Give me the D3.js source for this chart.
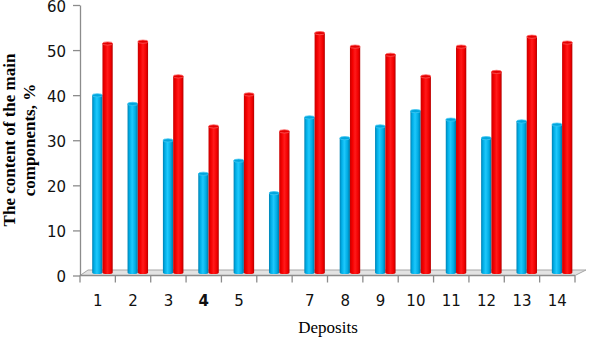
<!DOCTYPE html>
<html><head><meta charset="utf-8">
<script src="https://cdn.jsdelivr.net/npm/d3@7"></script>
<style>body{margin:0;background:#fff}svg{display:block}</style>
</head><body>
<svg id="c" width="589" height="337"></svg>
<script>
const categories = ["1","2","3","4","5","","7","8","9","10","11","12","13","14"];
const seriesNames = ["blue","red"];
const blueValues = [39.3,37.4,29.3,21.9,24.8,17.6,34.4,29.8,32.4,35.8,33.9,29.8,33.5,32.8];
const redValues  = [50.8,51.2,43.5,32.4,39.5,31.3,53.1,50.1,48.3,43.5,50.1,44.5,52.3,51.0];
const yTicks = [0,10,20,30,40,50,60];
const yTitle = ["The content of the main","components, %"];
const xTitle = "Deposits";

(function () {
const svg = d3.select("#c");
const mLeft = 80, mRight = 575, mTop = 5, mBottom = 275.5;
const depthX = 4, depthY = 3;

const x = d3.scaleBand().domain(d3.range(categories.length)).range([mLeft, mRight]).padding(0);
const y = d3.scaleLinear().domain([0, 60]).range([mBottom, mTop]);
const barW = x.bandwidth() * 0.29;
const x1 = d3.scaleBand().domain(seriesNames).range([0, 2 * barW]);

const defs = svg.append("defs");
function grad(id, stops) {
  const g = defs.append("linearGradient").attr("id", id).attr("x1", "0%").attr("x2", "100%").attr("y1", "0%").attr("y2", "0%");
  stops.forEach(s => g.append("stop").attr("offset", s[0]).attr("stop-color", s[1]));
}
grad("gBlue", [["0%","#0082b4"],["20%","#00aee6"],["45%","#1ec8fc"],["75%","#00ace4"],["100%","#0077a6"]]);
grad("gRed", [["0%","#c80000"],["25%","#f40000"],["50%","#ff1a1a"],["80%","#f20000"],["100%","#b40000"]]);
const style = {
  blue: {fill: "url(#gBlue)", top: "#00a6de", rim: "#3fc6f2"},
  red: {fill: "url(#gRed)", top: "#e40000", rim: "#ff5a5a"}
};

// floor
const floorPts = [[mLeft, mBottom], [mRight, mBottom], [mRight + 11, mBottom - 5.5], [mLeft + 8, mBottom - 5.5]];
svg.append("polygon").attr("points", floorPts.map(p => p.join(",")).join(" "))
  .attr("fill", "#e3e3e3").attr("stroke", "#a6a6a6").attr("stroke-width", 1);

// y axis
const yAxis = svg.append("g").attr("transform", `translate(${mLeft},0)`)
  .call(d3.axisLeft(y).tickValues(yTicks).tickSize(7).tickPadding(7).tickSizeOuter(0));
yAxis.select(".domain").attr("stroke", "#8c8c8c").attr("stroke-width", 1.3);
yAxis.selectAll(".tick line").attr("stroke", "#8c8c8c").attr("stroke-width", 1.3);
yAxis.selectAll("text").attr("font-family", "DejaVu Sans").attr("font-size", 15).attr("fill", "#111")
  .attr("dy", "0.43em");

// x axis
const xAxis = svg.append("g").attr("transform", `translate(0,${mBottom})`)
  .call(d3.axisBottom(x).tickFormat(i => categories[i]).tickSize(0).tickPadding(19.5));
xAxis.select(".domain").remove();
xAxis.selectAll("text").attr("font-family", "DejaVu Sans").attr("font-size", 15).attr("fill", "#111")
  .attr("font-weight", (d) => categories[d] === "4" ? "bold" : "normal");
svg.append("line").attr("x1", mLeft).attr("x2", mRight).attr("y1", mBottom).attr("y2", mBottom)
  .attr("stroke", "#8c8c8c").attr("stroke-width", 1.3);
const bounds = d3.range(categories.length).map(i => x(i)).concat([mRight]);
svg.append("g").selectAll("line").data(bounds).join("line")
  .attr("x1", d => d).attr("x2", d => d).attr("y1", mBottom).attr("y2", mBottom + 7)
  .attr("stroke", "#8c8c8c").attr("stroke-width", 1.3);

// bars (cylinders)
const rows = categories.map((c, i) => ({i, blue: blueValues[i], red: redValues[i]}));
const ry = 1.6;
const bars = svg.append("g");
rows.forEach(r => {
  seriesNames.forEach(s => {
    const x0 = x(r.i) + 8.2 + depthX + x1(s);
    const w = x1.bandwidth();
    const yt = y(r[s]) - depthY;
    const yb = y(0) - depthY;
    const rx = w / 2;
    const p = `M${x0},${yt} L${x0},${yb} A${rx},${ry} 0 0 0 ${x0 + w},${yb} L${x0 + w},${yt} Z`;
    bars.append("path").attr("d", p).attr("fill", style[s].fill);
    bars.append("ellipse").attr("cx", x0 + rx).attr("cy", yt).attr("rx", rx).attr("ry", ry)
      .attr("fill", style[s].top).attr("stroke", style[s].rim).attr("stroke-width", 0.8);
  });
});

// titles
const tt = svg.append("text").attr("transform", "translate(15,140) rotate(-90)")
  .attr("text-anchor", "middle").attr("font-family", "Liberation Serif").attr("font-weight", "bold")
  .attr("font-size", 17).attr("fill", "#000");
tt.append("tspan").attr("x", 0).attr("dy", 0).text(yTitle[0]);
tt.append("tspan").attr("x", 0).attr("dy", 20).text(yTitle[1]);

svg.append("text").attr("x", 328).attr("y", 333).attr("text-anchor", "middle")
  .attr("font-family", "Liberation Serif").attr("font-size", 17).attr("fill", "#000").text(xTitle);
})();
</script>
</body></html>
